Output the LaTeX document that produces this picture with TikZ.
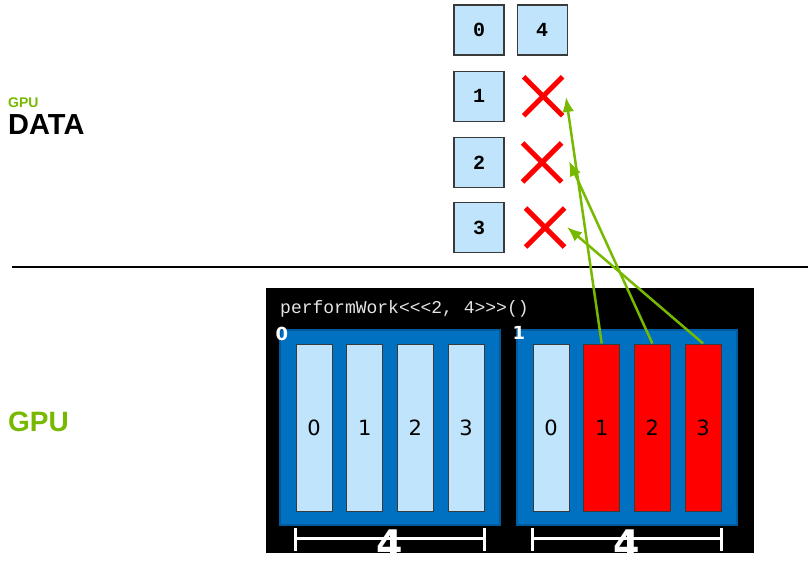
\documentclass[tikz,border=0pt]{standalone}
\usepackage{fontspec}
\setmainfont{Liberation Sans}
\newfontfamily\monofont{Liberation Mono}
\newfontfamily\digitfont{DejaVu Sans}
\usetikzlibrary{arrows.meta,calc,positioning,shapes.misc}
\definecolor{nvgreen}{HTML}{76B900}
\definecolor{cellblue}{HTML}{C0E4FC}
\definecolor{blockblue}{HTML}{0070C0}
\definecolor{blockedge}{HTML}{005A9E}
\definecolor{boxedge}{HTML}{3A3A3A}
\definecolor{codegray}{HTML}{E4E4E4}
\tikzset{>=Latex,
  databox/.style={draw=boxedge,fill=cellblue,line width=1.2pt,minimum size=50pt,
    inner sep=0pt,font=\monofont\bfseries\fontsize{20}{20}\selectfont},
  fail/.style={cross out,draw=red,line width=5pt,minimum size=34pt,inner sep=0pt},
  block/.style={draw=blockedge,fill=blockblue,line width=1.5pt,minimum width=220pt,
    minimum height=195pt,inner sep=0pt},
  thread/.style={draw=boxedge,fill=cellblue,line width=1pt,minimum width=36pt,
    minimum height=167pt,inner sep=0pt,font=\digitfont\fontsize{21}{21}\selectfont},
  hot/.style={thread,fill=red},
  write/.style={-{Latex[length=15pt,width=12pt]},draw=nvgreen,line width=2.5pt},
  span/.style={draw=white,line width=2.5pt},
  blockid/.style={white,inner sep=0pt,font=\digitfont\bfseries\fontsize{18}{18}\selectfont},
  count/.style={white,inner sep=0pt,anchor=base,font=\digitfont\bfseries\fontsize{38}{38}\selectfont}}

\begin{document}
\begin{tikzpicture}[x=1pt,y=-1pt]
\useasboundingbox (0,0) rectangle (808,563);
% labels on the left
\node[anchor=base west,inner sep=0pt,nvgreen,font=\bfseries\fontsize{14}{14}\selectfont] (gpusmall) at (8,107) {GPU};
\node[anchor=base west,inner sep=0pt,font=\bfseries\fontsize{29}{29}\selectfont] (data) at (8,134) {DATA};
\node[anchor=base west,inner sep=0pt,nvgreen,font=\bfseries\fontsize{28}{28}\selectfont] (gpu) at (8,431) {GPU};
\draw[line width=1.5pt] (12,267) -- (808,267);
% data array
\node[databox] (d0) at (479,30) {0};
\node[databox,right=12pt of d0] (d4) {4};
\node[databox,below=15pt of d0] (d1) {1};
\node[databox,below=15pt of d1] (d2) {2};
\node[databox,below=14pt of d2] (d3) {3};
\node[fail,right=19pt of d1] (x1) {};
\node[fail,right=18pt of d2] (x2) {};
\node[fail,right=21pt of d3] (x3) {};
\coordinate (h1) at (566,97);
\coordinate (h2) at (569,161);
\coordinate (h3) at (567,227);
% grid
\fill (266,288) rectangle (754,553);
\node[anchor=west,inner sep=0pt,text=codegray,font=\monofont\fontsize{18}{18}\selectfont] (call) at (280,309) {performWork<<<2, 4>>>()};
\node[block] (blk0) at (390,427.5) {};
\node[block] (blk1) at (627,427.5) {};
\node[blockid] (id0) at (282,334) {0};
\node[blockid] (id1) at (519,333) {1};
\foreach \i in {0,...,3}
  \node[thread] (a\i) at (314+50.7*\i,427.5) {\i};
\foreach \i/\s in {0/thread,1/hot,2/hot,3/hot}
  \node[\s] (b\i) at (551+50.7*\i,427.5) {\i};
\foreach \b in {a,b}{
  \draw[span] ([yshift=-16pt]\b0.south west) -- ([yshift=-39pt]\b0.south west)
    ([yshift=-27pt]\b0.south west) -- ([yshift=-27pt]\b3.south east)
    ([yshift=-16pt]\b3.south east) -- ([yshift=-39pt]\b3.south east);
  \node[count] (n\b) at ($(\b0.south)!.5!(\b3.south)+(0,46)$) {4};
}
% writes from block 1
\draw[write] (b1.north) -- (h1);
\draw[write] (b2.north) -- (h2);
\draw[write] (b3.north) -- (h3);
\end{tikzpicture}
\end{document}
